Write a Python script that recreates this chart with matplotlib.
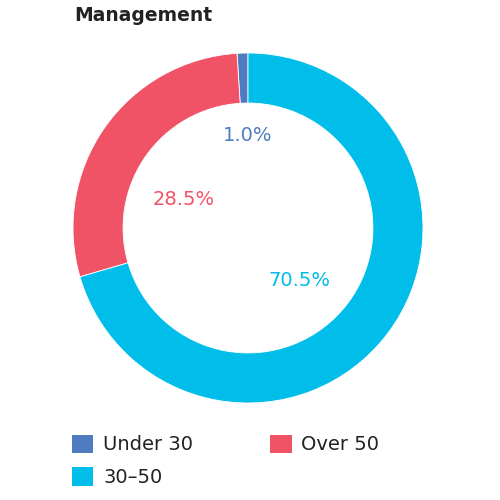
import matplotlib
matplotlib.use("Agg")
import matplotlib.pyplot as plt
from matplotlib.patches import Patch

categories = ["Under 30", "Over 50", "30–50"]
values = [1.0, 28.5, 70.5]
colors = ["#4F7CC1", "#F15366", "#00BDE9"]
title = "Management"
# label offsets within the hole, in units of outer radius
label_pos = [(0.0, 0.53), (-0.37, 0.165), (0.295, -0.30)]

plt.rcParams['font.family'] = ['DejaVu Sans']

fig = plt.figure(figsize=(5, 5), dpi=100)
ax = fig.add_axes([0.146, 0.194, 0.7, 0.7])
wedges, _ = ax.pie(values, colors=colors, startangle=90, counterclock=True,
                   radius=1.0, wedgeprops=dict(width=0.286, edgecolor='white', linewidth=0.6))
for v, c, (x, y) in zip(values, colors, label_pos):
    ax.text(x, y, f"{v:.1f}%", color=c, fontsize=14, ha='center', va='center')
ax.set_xlim(-1, 1)
ax.set_ylim(-1, 1)
ax.set_aspect('equal')
ax.axis('off')

fig.text(0.148, 0.988, title, fontsize=13.5, fontweight='bold', color='#222222',
         ha='left', va='top')

order = [0, 2, 1]
handles = [Patch(facecolor=colors[i], edgecolor='none') for i in order]
labels = [categories[i] for i in order]
fig.legend(handles, labels, loc='upper left', bbox_to_anchor=(0.109, 0.166),
           ncol=2, frameon=False, fontsize=14, handlelength=1.1, handleheight=1.1,
           handletextpad=0.5, columnspacing=3.97, labelspacing=0.65, labelcolor='#222222')

fig.savefig("out.png", dpi=100)
